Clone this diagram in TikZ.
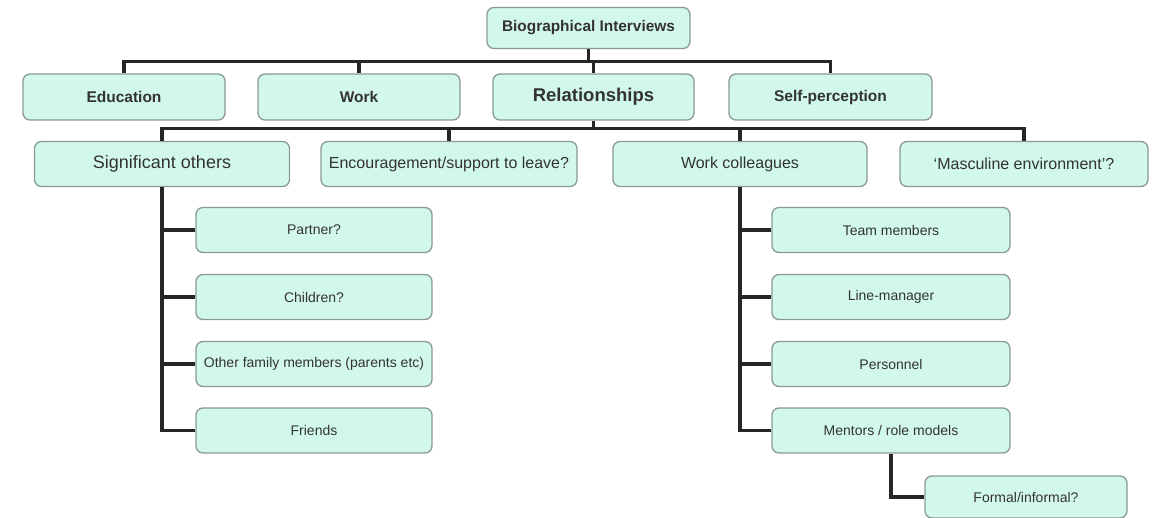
\documentclass[tikz,border=0pt]{standalone}
\usepackage{fontspec}
\setmainfont{Liberation Sans}
\definecolor{boxfill}{HTML}{D2F8EC}
\definecolor{boxline}{HTML}{8A9A96}
\definecolor{txt}{HTML}{333333}
\begin{document}
\begin{tikzpicture}[x=1pt,y=-1pt,
  box/.style={draw=boxline, line width=1.3pt, fill=boxfill, rounded corners=7pt,
    inner sep=0pt, text=txt, anchor=center, align=center},
  lvla/.style={box, minimum width=202pt, minimum height=46pt, font=\bfseries\fontsize{15.5}{18}\selectfont},
  lvlb/.style={box, minimum height=45pt, font=\fontsize{16}{19}\selectfont},
  leaf/.style={box, minimum height=45pt, font=\fontsize{14}{17}\selectfont},
  conn/.style={draw=black!85, line width=3.1pt, line join=miter}]
\useasboundingbox (0,0) rectangle (1157,518);
% nodes
\node[box, minimum width=203pt, minimum height=41pt, font=\bfseries\fontsize{15.4}{18}\selectfont] (bio) at (588.5,28) {Biographical Interviews};
\node[lvla] (edu) at (124,97) {Education};
\node[lvla] (work) at (359,97) {Work};
\node[lvla, minimum width=201pt, font=\bfseries\fontsize{18.5}{21}\selectfont] (rel) at (593.5,97) {Relationships};
\node[lvla, minimum width=203pt] (self) at (830.5,97) {Self-perception};
\node[lvlb, minimum width=255pt, font=\fontsize{18}{21}\selectfont] (sig) at (162,164) {Significant others};
\node[lvlb, minimum width=256pt] (enc) at (449,164) {Encouragement/support to leave?};
\node[lvlb, minimum width=254pt] (wc) at (740,164) {Work colleagues};
\node[lvlb, minimum width=248pt] (masc) at (1024,164) {‘Masculine environment’?};
\node[leaf, minimum width=236pt] (partner) at (314,230) {Partner?};
\node[leaf, minimum width=236pt] (children) at (314,297) {Children?};
\node[leaf, minimum width=236pt] (other) at (314,364) {Other family members (parents etc)};
\node[leaf, minimum width=236pt] (friends) at (314,430.5) {Friends};
\node[leaf, minimum width=238pt] (team) at (891,230) {Team members};
\node[leaf, minimum width=238pt] (line) at (891,297) {Line-manager};
\node[leaf, minimum width=238pt] (pers) at (891,364) {Personnel};
\node[leaf, minimum width=238pt] (ment) at (891,430.5) {Mentors / role models};
\node[leaf, minimum width=202pt, minimum height=42pt] (formal) at (1026,497) {Formal/informal?};
% connectors
\coordinate (barA) at (588,61.5);
\coordinate (barB) at (593,128.5);
\draw[conn] (bio.south) -- (bio.south |- barA);
\draw[conn] (edu.north) -- (edu.north |- barA) -- (self.north |- barA) -- (self.north);
\draw[conn] (work.north) -- (work.north |- barA);
\draw[conn] (rel.north) -- (rel.north |- barA);
\draw[conn] (rel.south) -- (rel.south |- barB);
\draw[conn] (sig.north) -- (sig.north |- barB) -- (masc.north |- barB) -- (masc.north);
\draw[conn] (enc.north) -- (enc.north |- barB);
\draw[conn] (wc.north) -- (wc.north |- barB);
\draw[conn] (sig.south) -- (sig.south |- friends.west) -- (friends.west);
\draw[conn] (sig.south |- partner.west) -- (partner.west);
\draw[conn] (sig.south |- children.west) -- (children.west);
\draw[conn] (sig.south |- other.west) -- (other.west);
\draw[conn] (wc.south) -- (wc.south |- ment.west) -- (ment.west);
\draw[conn] (wc.south |- team.west) -- (team.west);
\draw[conn] (wc.south |- line.west) -- (line.west);
\draw[conn] (wc.south |- pers.west) -- (pers.west);
\draw[conn] (ment.south) -- (ment.south |- formal.west) -- (formal.west);
\end{tikzpicture}
\end{document}
